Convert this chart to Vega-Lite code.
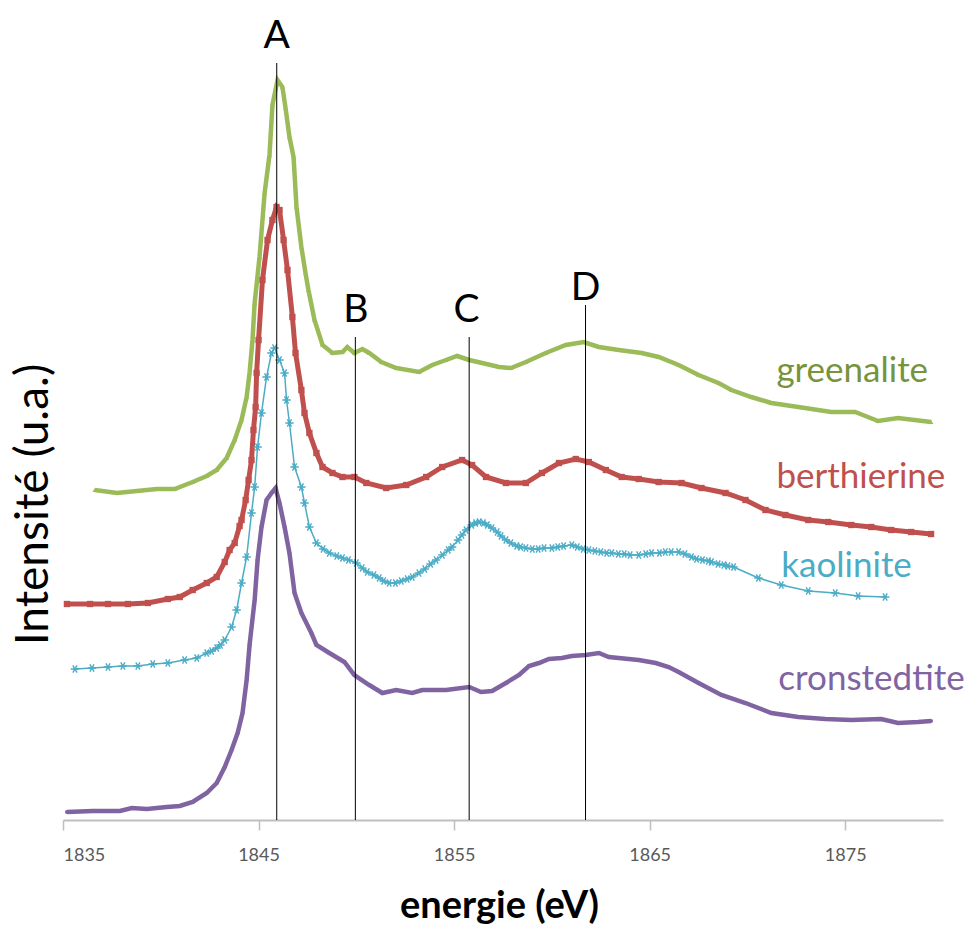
{
  "$schema": "https://vega.github.io/schema/vega-lite/v6.json",
  "width": 880,
  "height": 800,
  "autosize": "none",
  "padding": {"left": 63, "top": 20, "right": 21, "bottom": 107},
  "background": "white",
  "config": {"view": {"stroke": null}},
  "datasets": {
    "greenalite": [
      {"e":1836.63,"i":330},{"e":1837.76,"i":327},{"e":1838.78,"i":329},{"e":1839.80,"i":331},{"e":1840.71,"i":331},{"e":1841.63,"i":338},{"e":1842.35,"i":344},{"e":1842.86,"i":350},{"e":1843.37,"i":362},{"e":1843.78,"i":380},{"e":1844.13,"i":400},{"e":1844.39,"i":423},{"e":1844.54,"i":447},{"e":1844.69,"i":480},{"e":1844.80,"i":517},{"e":1845.05,"i":563},{"e":1845.31,"i":627},{"e":1845.56,"i":665},{"e":1845.71,"i":715},{"e":1845.97,"i":740},{"e":1846.22,"i":733},{"e":1846.38,"i":712},{"e":1846.58,"i":683},{"e":1846.79,"i":663},{"e":1846.94,"i":613},{"e":1847.19,"i":573},{"e":1847.40,"i":547},{"e":1847.55,"i":530},{"e":1847.86,"i":500},{"e":1848.27,"i":475},{"e":1848.78,"i":467},{"e":1849.29,"i":468},{"e":1849.54,"i":473},{"e":1849.90,"i":467},{"e":1850.31,"i":471},{"e":1850.66,"i":467},{"e":1851.28,"i":458},{"e":1852.04,"i":452},{"e":1853.21,"i":448},{"e":1853.88,"i":455},{"e":1854.59,"i":460},{"e":1855.15,"i":464},{"e":1855.77,"i":460},{"e":1856.43,"i":457},{"e":1857.30,"i":453},{"e":1857.91,"i":452},{"e":1858.67,"i":458},{"e":1859.69,"i":467},{"e":1860.71,"i":475},{"e":1861.63,"i":478},{"e":1862.40,"i":473},{"e":1863.42,"i":470},{"e":1864.59,"i":467},{"e":1865.46,"i":463},{"e":1866.48,"i":455},{"e":1867.50,"i":445},{"e":1868.52,"i":437},{"e":1869.18,"i":430},{"e":1870.20,"i":423},{"e":1871.22,"i":417},{"e":1872.60,"i":413},{"e":1874.29,"i":408},{"e":1875.51,"i":408},{"e":1876.68,"i":399},{"e":1877.70,"i":402},{"e":1879.39,"i":398}
    ],
    "berthierine": [
      {"e":1835.20,"i":216},{"e":1836.38,"i":216},{"e":1837.30,"i":216},{"e":1838.32,"i":216},{"e":1839.34,"i":217},{"e":1840.36,"i":221},{"e":1840.97,"i":223},{"e":1841.63,"i":230},{"e":1842.35,"i":237},{"e":1842.86,"i":243},{"e":1843.27,"i":258},{"e":1843.52,"i":270},{"e":1843.78,"i":277},{"e":1844.03,"i":294},{"e":1844.13,"i":300},{"e":1844.34,"i":320},{"e":1844.49,"i":340},{"e":1844.64,"i":360},{"e":1844.74,"i":390},{"e":1844.85,"i":413},{"e":1844.90,"i":447},{"e":1845.00,"i":480},{"e":1845.20,"i":540},{"e":1845.46,"i":580},{"e":1845.71,"i":600},{"e":1845.92,"i":613},{"e":1846.07,"i":610},{"e":1846.28,"i":580},{"e":1846.48,"i":550},{"e":1846.73,"i":503},{"e":1846.89,"i":467},{"e":1847.19,"i":430},{"e":1847.35,"i":407},{"e":1847.60,"i":387},{"e":1847.96,"i":367},{"e":1848.27,"i":353},{"e":1848.78,"i":347},{"e":1849.29,"i":343},{"e":1849.90,"i":343},{"e":1850.51,"i":337},{"e":1851.53,"i":332},{"e":1852.55,"i":335},{"e":1853.57,"i":343},{"e":1854.39,"i":353},{"e":1855.41,"i":360},{"e":1855.92,"i":355},{"e":1856.63,"i":343},{"e":1857.65,"i":337},{"e":1858.67,"i":337},{"e":1859.49,"i":347},{"e":1860.36,"i":357},{"e":1861.22,"i":361},{"e":1861.89,"i":358},{"e":1862.76,"i":350},{"e":1863.57,"i":343},{"e":1864.44,"i":341},{"e":1865.46,"i":338},{"e":1866.63,"i":337},{"e":1867.65,"i":332},{"e":1868.88,"i":327},{"e":1869.90,"i":320},{"e":1870.92,"i":310},{"e":1871.94,"i":305},{"e":1873.11,"i":300},{"e":1874.13,"i":298},{"e":1875.31,"i":295},{"e":1876.33,"i":293},{"e":1877.35,"i":290},{"e":1878.37,"i":288},{"e":1879.39,"i":286}
    ],
    "kaolinite": [
      {"e":1835.61,"i":151},{"e":1836.48,"i":152},{"e":1837.30,"i":153},{"e":1838.06,"i":154},{"e":1838.83,"i":154},{"e":1839.59,"i":156},{"e":1840.36,"i":157},{"e":1841.22,"i":160},{"e":1841.84,"i":162},{"e":1842.35,"i":167},{"e":1842.6,"i":169},{"e":1842.86,"i":172},{"e":1843.05,"i":175},{"e":1843.27,"i":180},{"e":1843.62,"i":193},{"e":1843.88,"i":210},{"e":1844.13,"i":237},{"e":1844.39,"i":263},{"e":1844.64,"i":307},{"e":1844.80,"i":333},{"e":1844.95,"i":373},{"e":1845.15,"i":407},{"e":1845.41,"i":443},{"e":1845.66,"i":467},{"e":1845.82,"i":472},{"e":1846.07,"i":460},{"e":1846.33,"i":447},{"e":1846.43,"i":420},{"e":1846.58,"i":397},{"e":1846.84,"i":353},{"e":1847.19,"i":333},{"e":1847.35,"i":317},{"e":1847.60,"i":293},{"e":1847.96,"i":277},{"e":1848.3,"i":271},{"e":1848.62,"i":267},{"e":1849.0,"i":264},{"e":1849.29,"i":262},{"e":1849.6,"i":260},{"e":1850.00,"i":257},{"e":1850.3,"i":252},{"e":1850.56,"i":248},{"e":1850.9,"i":245},{"e":1851.17,"i":242},{"e":1851.4,"i":239},{"e":1851.68,"i":237},{"e":1852.0,"i":237},{"e":1852.3,"i":239},{"e":1852.6,"i":241},{"e":1852.86,"i":243},{"e":1853.2,"i":247},{"e":1853.5,"i":251},{"e":1853.8,"i":256},{"e":1854.08,"i":260},{"e":1854.4,"i":265},{"e":1854.7,"i":270},{"e":1854.90,"i":273},{"e":1855.2,"i":280},{"e":1855.4,"i":285},{"e":1855.61,"i":290},{"e":1855.9,"i":295},{"e":1856.1,"i":297},{"e":1856.28,"i":298},{"e":1856.5,"i":297},{"e":1856.7,"i":295},{"e":1856.94,"i":292},{"e":1857.2,"i":288},{"e":1857.4,"i":284},{"e":1857.65,"i":280},{"e":1857.9,"i":277},{"e":1858.2,"i":274},{"e":1858.4,"i":273},{"e":1858.67,"i":272},{"e":1859.0,"i":271},{"e":1859.3,"i":271},{"e":1859.6,"i":272},{"e":1860.00,"i":272},{"e":1860.3,"i":273},{"e":1860.6,"i":274},{"e":1861.02,"i":275},{"e":1861.3,"i":273},{"e":1861.6,"i":271},{"e":1861.89,"i":270},{"e":1862.2,"i":269},{"e":1862.5,"i":268},{"e":1862.8,"i":267},{"e":1863.06,"i":267},{"e":1863.4,"i":266},{"e":1863.7,"i":266},{"e":1864.0,"i":265},{"e":1864.44,"i":265},{"e":1864.8,"i":266},{"e":1865.10,"i":267},{"e":1865.5,"i":267},{"e":1865.8,"i":268},{"e":1866.1,"i":268},{"e":1866.48,"i":268},{"e":1866.8,"i":266},{"e":1867.14,"i":263},{"e":1867.4,"i":261},{"e":1867.7,"i":260},{"e":1868.0,"i":259},{"e":1868.16,"i":258},{"e":1868.5,"i":256},{"e":1868.8,"i":255},{"e":1869.0,"i":254},{"e":1869.29,"i":253},{"e":1870.56,"i":242},{"e":1871.73,"i":235},{"e":1873.11,"i":229},{"e":1874.49,"i":227},{"e":1875.66,"i":224},{"e":1877.04,"i":223}
    ],
    "cronstedtite": [
      {"e":1835.20,"i":8},{"e":1836.53,"i":9},{"e":1837.91,"i":9},{"e":1838.52,"i":12},{"e":1839.29,"i":11},{"e":1840.31,"i":13},{"e":1840.97,"i":14},{"e":1841.63,"i":18},{"e":1842.35,"i":27},{"e":1842.86,"i":37},{"e":1843.27,"i":53},{"e":1843.62,"i":70},{"e":1843.93,"i":87},{"e":1844.18,"i":107},{"e":1844.39,"i":140},{"e":1844.54,"i":175},{"e":1844.80,"i":220},{"e":1844.95,"i":260},{"e":1845.15,"i":293},{"e":1845.41,"i":320},{"e":1845.66,"i":327},{"e":1845.87,"i":332},{"e":1846.07,"i":317},{"e":1846.33,"i":293},{"e":1846.58,"i":267},{"e":1846.84,"i":227},{"e":1847.19,"i":207},{"e":1847.70,"i":187},{"e":1847.96,"i":175},{"e":1848.62,"i":167},{"e":1849.39,"i":158},{"e":1849.90,"i":145},{"e":1850.66,"i":135},{"e":1851.33,"i":127},{"e":1852.04,"i":130},{"e":1852.86,"i":127},{"e":1853.37,"i":130},{"e":1854.59,"i":130},{"e":1855.77,"i":133},{"e":1856.38,"i":128},{"e":1856.94,"i":129},{"e":1857.65,"i":137},{"e":1858.32,"i":145},{"e":1858.83,"i":154},{"e":1859.34,"i":157},{"e":1859.85,"i":161},{"e":1860.51,"i":162},{"e":1861.02,"i":164},{"e":1861.73,"i":165},{"e":1862.40,"i":167},{"e":1862.91,"i":163},{"e":1863.93,"i":161},{"e":1864.44,"i":160},{"e":1865.31,"i":157},{"e":1865.97,"i":153},{"e":1866.48,"i":148},{"e":1867.50,"i":137},{"e":1868.67,"i":125},{"e":1869.90,"i":117},{"e":1871.22,"i":107},{"e":1872.60,"i":103},{"e":1873.98,"i":101},{"e":1875.31,"i":100},{"e":1876.84,"i":101},{"e":1877.70,"i":97},{"e":1878.72,"i":98},{"e":1879.39,"i":99}
    ],
    "features": [
      {"k":"A","e":1845.93,"i":757},
      {"k":"B","e":1849.95,"i":483},
      {"k":"C","e":1855.77,"i":483},
      {"k":"D","e":1861.72,"i":515}
    ],
    "featureLabels": [
      {"k":"A","e":1845.93,"i":772},
      {"k":"B","e":1849.97,"i":498},
      {"k":"C","e":1855.64,"i":498},
      {"k":"D","e":1861.72,"i":520}
    ],
    "seriesLabels": [
      {"t":"greenalite","e":1871.48,"i":438},
      {"t":"berthierine","e":1871.48,"i":332},
      {"t":"kaolinite","e":1871.73,"i":243},
      {"t":"cronstedtite","e":1871.58,"i":130}
    ]
  },
  "encoding": {
    "x": {
      "field": "e", "type": "quantitative",
      "scale": {"domain": [1835, 1880], "nice": false, "zero": false},
      "axis": {
        "values": [1835, 1845, 1855, 1865, 1875], "format": "d", "grid": false,
        "labelFont": "Lato", "labelFontSize": 18, "labelColor": "#595959", "labelPadding": 16,
        "tickColor": "#bfbfbf", "tickSize": 10, "tickWidth": 1.5,
        "domainColor": "#bfbfbf", "domainWidth": 2,
        "title": "energie (eV)", "titleFont": "Lato", "titleFontSize": 38, "titleFontWeight": "bold",
        "titleColor": "black", "titleX": 436, "titleY": 86, "titleBaseline": "middle", "titleAlign": "center"
      }
    },
    "y": {
      "field": "i", "type": "quantitative",
      "scale": {"domain": [0, 800], "nice": false, "zero": false},
      "axis": {
        "domain": false, "ticks": false, "labels": false, "grid": false,
        "title": "Intensité (u.a.)", "titleFont": "Lato", "titleFontSize": 46, "titleFontWeight": "normal",
        "titleColor": "black", "titleX": -30, "titleY": 484, "titleAlign": "center", "titleBaseline": "middle", "titleAngle": 270
      }
    }
  },
  "layer": [
    {
      "data": {"name": "greenalite"},
      "mark": {"type": "line", "color": "#9bbb59", "strokeWidth": 4.5,
        "point": {"shape": "triangle-up", "size": 22, "filled": true, "color": "#9bbb59"}}
    },
    {
      "data": {"name": "berthierine"},
      "mark": {"type": "line", "color": "#c0504d", "strokeWidth": 5,
        "point": {"shape": "square", "size": 40, "filled": true, "color": "#c0504d"}}
    },
    {
      "data": {"name": "kaolinite"},
      "mark": {"type": "line", "color": "#4bacc6", "strokeWidth": 1.5}
    },
    {
      "data": {"name": "kaolinite"},
      "mark": {"type": "point", "shape": "M-1,0L1,0M-0.5,-0.866L0.5,0.866M-0.5,0.866L0.5,-0.866",
        "size": 70, "filled": false, "color": "#4bacc6", "strokeWidth": 1.4, "opacity": 1}
    },
    {
      "data": {"name": "cronstedtite"},
      "mark": {"type": "line", "color": "#8064a2", "strokeWidth": 4.5,
        "point": {"shape": "circle", "size": 16, "filled": true, "color": "#8064a2"}}
    },
    {
      "data": {"name": "features"},
      "mark": {"type": "rule", "color": "black", "strokeWidth": 1},
      "encoding": {"y2": {"datum": 0}}
    },
    {
      "data": {"name": "featureLabels"},
      "mark": {"type": "text", "font": "Lato", "fontSize": 39, "align": "center", "baseline": "alphabetic", "color": "black"},
      "encoding": {"text": {"field": "k"}}
    },
    {
      "data": {"name": "seriesLabels"},
      "mark": {"type": "text", "font": "Lato", "fontSize": 35, "align": "left", "baseline": "alphabetic"},
      "encoding": {
        "text": {"field": "t"},
        "color": {"field": "t", "type": "nominal", "legend": null,
          "scale": {"domain": ["greenalite", "berthierine", "kaolinite", "cronstedtite"],
                    "range": ["#77933c", "#c0504d", "#4bacc6", "#8064a2"]}}
      }
    }
  ]
}
